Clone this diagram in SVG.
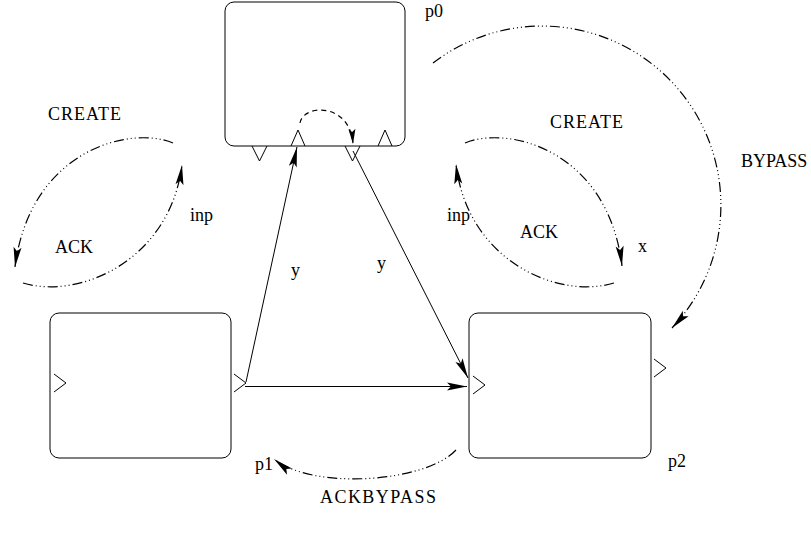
<svg xmlns="http://www.w3.org/2000/svg" width="811" height="535" viewBox="0 0 811 535">
<style>
.box{fill:#fff;stroke:#000;stroke-width:1}
.port{fill:none;stroke:#000;stroke-width:1}
.solid{fill:none;stroke:#000;stroke-width:1}
.ddd{fill:none;stroke:#000;stroke-width:1.2;stroke-dasharray:10 3 1 3 1 3 1 3}
.dash{fill:none;stroke:#000;stroke-width:1.2;stroke-dasharray:5 4}
text{font-family:"Liberation Serif","Times New Roman",serif;font-size:18px;fill:#000}
</style>
<defs>
<marker id="ah" viewBox="-21 -5 22 10" refX="0" refY="0" markerWidth="22" markerHeight="10" markerUnits="userSpaceOnUse" orient="auto" overflow="visible">
<path d="M0,0 L-20,-4 L-16,0 L-20,4 Z" fill="#000"/>
</marker>
<marker id="ahs" viewBox="-16 -4 17 8" refX="0" refY="0" markerWidth="17" markerHeight="8" markerUnits="userSpaceOnUse" orient="auto" overflow="visible">
<path d="M0,0 L-15,-3.5 L-12,0 L-15,3.5 Z" fill="#000"/>
</marker>
</defs>
<g id="p0">
<rect class="box" x="225" y="2" width="180" height="144" rx="9"/>
<polyline class="port" points="252,146 259.5,161 267,146"/>
<polyline class="port" points="291,146 298,130 305,146"/>
<polyline class="port" points="345,146 352.5,161 360,146"/>
<polyline class="port" points="378,146 385,130 392,146"/>
<text x="425" y="17">p0</text>
</g>
<g id="p1">
<rect class="box" x="50" y="313" width="181" height="145" rx="9"/>
<polyline class="port" points="54,374 66,383 54,392"/>
<polyline class="port" points="234,374 246,383 234,392"/>
<text x="255" y="470">p1</text>
</g>
<g id="p2">
<rect class="box" x="469" y="313" width="182" height="145" rx="9"/>
<polyline class="port" points="473,376 485,385 473,394"/>
<polyline class="port" points="654,359 666,368 654,377"/>
<text x="668" y="467">p2</text>
</g>
<g id="connectors">
<line class="solid" x1="246" y1="382" x2="297" y2="147" marker-end="url(#ah)"/>
<line class="solid" x1="353" y1="151" x2="468" y2="378" marker-end="url(#ah)"/>
<line class="solid" x1="245" y1="386.5" x2="467" y2="386.5" marker-end="url(#ah)"/>
<path class="dash" d="M300,123 C303,104 350,102 353,144" marker-end="url(#ahs)"/>
<path class="ddd" d="M173,143 C130,125 30,150 15,267" marker-end="url(#ah)"/>
<path class="ddd" d="M23,283 C80,300 170,260 182,165" marker-end="url(#ah)"/>
<path class="ddd" d="M465,143 C508,125 608,150 622,266" marker-end="url(#ah)"/>
<path class="ddd" d="M614,283 C557,300 467,260 456,164" marker-end="url(#ah)"/>
<path class="ddd" d="M433,63 A179,179 0 0 1 672,328" marker-end="url(#ah)"/>
<path class="ddd" d="M456,450 C425,483 312,490 274,459" marker-end="url(#ah)"/>
</g>
<g id="labels">
<text x="48" y="120" textLength="73">CREATE</text>
<text x="55" y="253">ACK</text>
<text x="190" y="221">inp</text>
<text x="550" y="128" textLength="73">CREATE</text>
<text x="520" y="238">ACK</text>
<text x="447" y="221">inp</text>
<text x="638" y="252">x</text>
<text x="741" y="167">BYPASS</text>
<text x="291" y="276">y</text>
<text x="377" y="269">y</text>
<text x="320" y="503" textLength="116">ACKBYPASS</text>
</g>
</svg>
